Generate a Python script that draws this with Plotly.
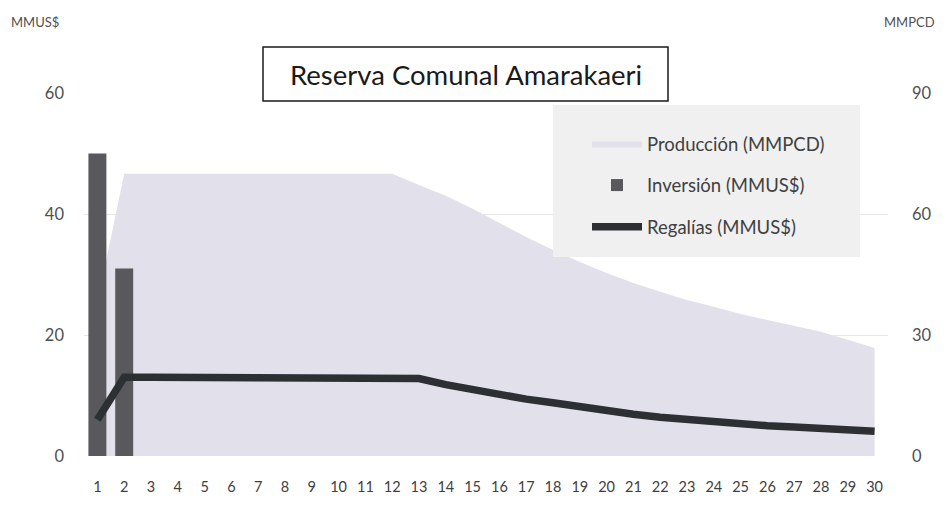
import plotly.graph_objects as go

years = list(range(1, 31))
tick_labels = [str(y) for y in years]

# Producción (MMPCD) - right axis
produccion = [38, 70, 70, 70, 70, 70, 70, 70, 70, 70, 70, 70, 67.2, 64.5, 61.3, 57.8,
              54.3, 51.1, 48.1, 45.4, 42.9, 40.7, 38.7, 37.0, 35.2, 33.7, 32.2, 30.8,
              28.8, 26.8]
# Inversión (MMUS$) - left axis
inversion_years = [1, 2]
inversion = [50, 31]
# Regalías (MMUS$) - left axis
regalias = [6.0, 13.0, 13.0, 13.0, 13.0, 13.0, 13.0, 13.0, 13.0, 13.0, 13.0, 13.0, 12.8,
            11.8, 10.9, 10.1, 9.4, 8.8, 8.1, 7.5, 6.9, 6.4, 6.0, 5.6, 5.3, 5.0, 4.8,
            4.6, 4.3, 4.1]

FONT = "Lato"
TXT = "#404040"

fig = go.Figure()
fig.add_trace(go.Scatter(
    x=years, y=produccion, name="Producción (MMPCD)", mode="lines",
    line=dict(width=0, color="#e2e0ea"), fill="tozeroy", fillcolor="#e2e0ea",
    yaxis="y", legendgroup="a", hoverinfo="skip"))
fig.add_trace(go.Bar(
    x=inversion_years, y=inversion, name="Inversión (MMUS$)",
    marker=dict(color="#58585d", line=dict(width=0)), width=0.67,
    yaxis="y2", legendgroup="b"))
fig.add_trace(go.Scatter(
    x=years, y=regalias, name="Regalías (MMUS$)", mode="lines",
    line=dict(width=7.5, color="#2c3033"), yaxis="y2", legendgroup="c"))

W, H = 947, 507
OFF = 8  # page body margin
# plot area in window pixel coordinates
PL, PR, PT, PB = 84, 888, 93, 456
L, R = PL - OFF, W - (PR - OFF)
T, B = PT - OFF, H - (PB - OFF)
pw, ph = PR - PL, PB - PT


def px(x):
    return (x - PL) / pw


def py(y):
    return (PB - y) / ph


fig.update_layout(
    width=W, height=H,
    margin=dict(l=L, r=R, t=T, b=B),
    paper_bgcolor="white", plot_bgcolor="white",
    font=dict(family=FONT, color=TXT),
    xaxis=dict(range=[0.5, 30.5], tickmode="array", tickvals=years, ticktext=tick_labels,
               showgrid=False, zeroline=False, showline=False, ticks="",
               tickfont=dict(size=14.5, color="#404040"), ticklabelstandoff=20),
    yaxis=dict(range=[0, 90], tickvals=[0, 30, 60, 90], side="right",
               showgrid=True, gridcolor="#e6e6e6", gridwidth=1, zeroline=False,
               showline=False, ticks="", tickfont=dict(size=16.5, color="#505050"),
               ticklabelstandoff=23),
    yaxis2=dict(range=[0, 60], tickvals=[0, 20, 40, 60], side="left", overlaying="y",
                showgrid=False, zeroline=False, showline=False, ticks="",
                tickfont=dict(size=16.5, color="#505050"), ticklabelstandoff=19),
    legend=dict(x=px(587), y=py(125), xanchor="left", yanchor="top",
                bgcolor="rgba(0,0,0,0)", borderwidth=0, itemwidth=50,
                tracegroupgap=14.5, font=dict(size=18.5, color=TXT), traceorder="grouped"),
    shapes=[
        dict(type="rect", xref="paper", yref="paper", layer="above",
             x0=px(553), x1=px(860), y0=py(257), y1=py(105),
             fillcolor="#f0f0f0", line=dict(width=0)),
        dict(type="rect", xref="paper", yref="paper", layer="above",
             x0=px(263), x1=px(668), y0=py(101), y1=py(47),
             fillcolor="rgba(0,0,0,0)", line=dict(width=1.5, color="#1a1a1a")),
    ],
    annotations=[
        dict(text="Reserva Comunal Amarakaeri", xref="paper", yref="paper",
             x=px(466), y=py(74), xanchor="center", yanchor="middle", showarrow=False,
             font=dict(size=27.5, color="#1a1a1a")),
        dict(text="MMUS$", xref="paper", yref="paper", x=px(35), y=py(22),
             xanchor="center", yanchor="middle",
             showarrow=False, font=dict(size=13, color="#505050")),
        dict(text="MMPCD", xref="paper", yref="paper", x=px(937), y=py(22),
             xanchor="right", yanchor="middle",
             showarrow=False, font=dict(size=13, color="#505050")),
    ],
)

fig.write_html("out.html")
